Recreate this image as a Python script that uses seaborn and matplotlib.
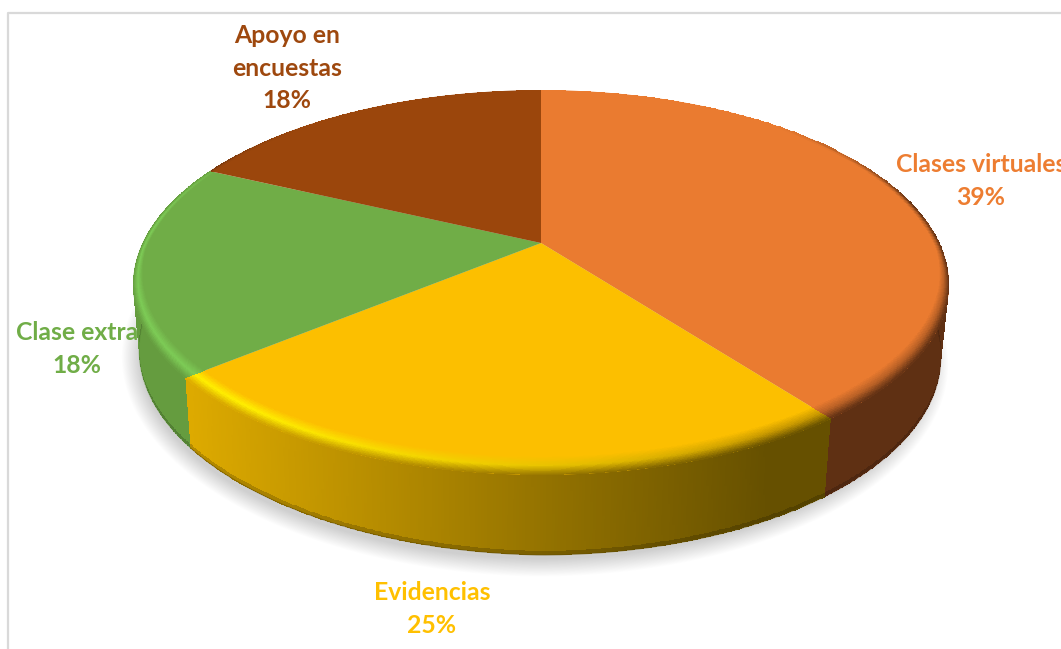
import numpy as np
import matplotlib.pyplot as plt
import matplotlib.colors as mcolors
import seaborn as sns

sns.set_theme(style='white')
plt.rcParams['font.family'] = ['Lato', 'DejaVu Sans']

# data
categories = ['Clases virtuales', 'Evidencias', 'Clase extra', 'Apoyo en\nencuestas']
values = [39.4, 25.0, 18.0, 17.6]

# colours of each slice
face_colors = ['#EA7B30', '#FCBF00', '#70AD47', '#9B460C']
text_colors = ['#ED7D31', '#FFC000', '#70AD47', '#9E480E']
highlight_colors = ['#EA7B30', '#FFEE00', '#7DCB56', '#9B460C']
wall_left = ['#5F3013', '#DDAA00', '#659C3F', '#5F3013']
wall_right = ['#5F3013', '#665000', '#5A8F36', '#5F3013']
label_pos = [(981, 181), (432, 609), (77, 349), (287, 68)]

# projected disc: k = perspective, then centre x, centre y, half width, half height
k = 0.184
rim = (541, 243, 401, 181)
base = (540, 321, 394, 191)


def project(t, r, g):
    u = r * np.sin(np.radians(t))
    v = r * np.cos(np.radians(t))
    w = 1 + k * v
    x = g[0] + g[2] * u / w
    y = g[1] - g[3] * v / w
    if g is rim:
        # rim is not a clean ellipse: its widest point sits lower
        y = np.where(y < 277.5, 90 + (y - 90) * 1.04, 285 + (y - 277.5) * 1.013)
    else:
        # base lifts a bit on the left
        y = y - 0.018 * np.clip(540 - x, 0, None)
    return x, y


def lerp(a, b, s):
    return a + (b - a) * s


fig = plt.figure(figsize=(10.61, 6.49), dpi=100)
ax = fig.add_axes([0, 0, 1, 1])
ax.set_xlim(0, 1061)
ax.set_ylim(649, 0)
ax.axis('off')

# chart frame
ax.plot([8, 8, 1061], [649, 13, 13], color='#D9D9D9', lw=1.6, zorder=1)

# soft shadow below the body
tt = np.linspace(0, 360, 361)
for i in range(24):
    sx, sy = project(tt, 1, base)
    grow = 0.985 + 0.002 * i
    sx = 535 + (sx - 540) * grow
    sy = 364 + (sy - 357) * grow * (1 + 0.0018 * i)
    ax.fill(sx, sy, color='black', alpha=0.0095, lw=0, zorder=2)

edges = np.concatenate([[0], np.cumsum(values)]) * 360 / np.sum(values)

# side walls
for i in range(len(values)):
    t0, t1 = max(edges[i], 75), min(edges[i + 1], 285)
    if t1 <= t0:
        continue
    cmap = sns.blend_palette([wall_left[i], wall_right[i]], as_cmap=True)
    t = np.linspace(t0, t1, 260)
    z = np.linspace(0, 1, 40)
    tg, zg = np.meshgrid(t, z)
    xr, yr = project(tg, 1, rim)
    xb, yb = project(tg, 1, base)
    X = lerp(xr, xb, zg)
    Y = lerp(yr, yb, zg)
    rgb = cmap(np.clip((X[:-1, :-1] - 190) / 580, 0, 1))[..., :3]
    rgb = rgb * np.where(zg[:-1, :-1] > 0.94, 0.82, 1)[..., None]
    ax.pcolormesh(X, Y, rgb, shading='flat', antialiased=False, linewidth=0, zorder=3)
    ax.plot(xb[0], yb[0], color=wall_right[i], lw=0.7, alpha=0.6, zorder=3)

# top face and rounded rim
for i in range(len(values)):
    t = np.linspace(edges[i], edges[i + 1], 300)
    x, y = project(t, 1, rim)
    ax.fill(np.r_[rim[0], x], np.r_[rim[1], y], color=face_colors[i], lw=0, zorder=4)

    face = np.array(mcolors.to_rgb(face_colors[i]))
    high = np.array(mcolors.to_rgb(highlight_colors[i]))
    cmap = sns.blend_palette([wall_left[i], wall_right[i]], as_cmap=True)
    s = np.linspace(0, 1, 24)
    tg, sg = np.meshgrid(t, s)
    vg = np.cos(np.radians(tg))
    inner = 1 - (0.015 + 0.055 * np.clip(-vg, 0, 1))
    rg = lerp(inner, 1.0, sg)
    X, Y = project(tg, rg, rim)

    tc = tg[:-1, :-1]
    sc = sg[:-1, :-1, None]
    vc = vg[:-1, :-1]
    lit = np.minimum(np.clip((tc - 150) / 70, 0, 1), np.clip((320 - tc) / 40, 0, 1))[..., None]
    strength = np.clip((0.75 - vc) / 0.5, 0, 1)[..., None]
    wall = cmap(np.clip((X[:-1, :-1] - 190) / 580, 0, 1))[..., :3]
    peak = lerp(lerp(face, wall, 0.35), high, lit)
    band = np.where(sc < 0.5, lerp(face, peak, sc / 0.5), lerp(peak, wall, (sc - 0.5) / 0.5))
    rgb = lerp(face, band, strength)
    ax.pcolormesh(X, Y, rgb, shading='flat', antialiased=False, linewidth=0, zorder=5)

# labels
for i in range(len(values)):
    ax.text(label_pos[i][0], label_pos[i][1],
            f'{categories[i]}\n{round(values[i])}%',
            color=text_colors[i], fontsize=17.8, fontweight='bold',
            ha='center', va='center', multialignment='center',
            linespacing=1.5, zorder=6, clip_on=True)

plt.savefig('out.png', dpi=100)
